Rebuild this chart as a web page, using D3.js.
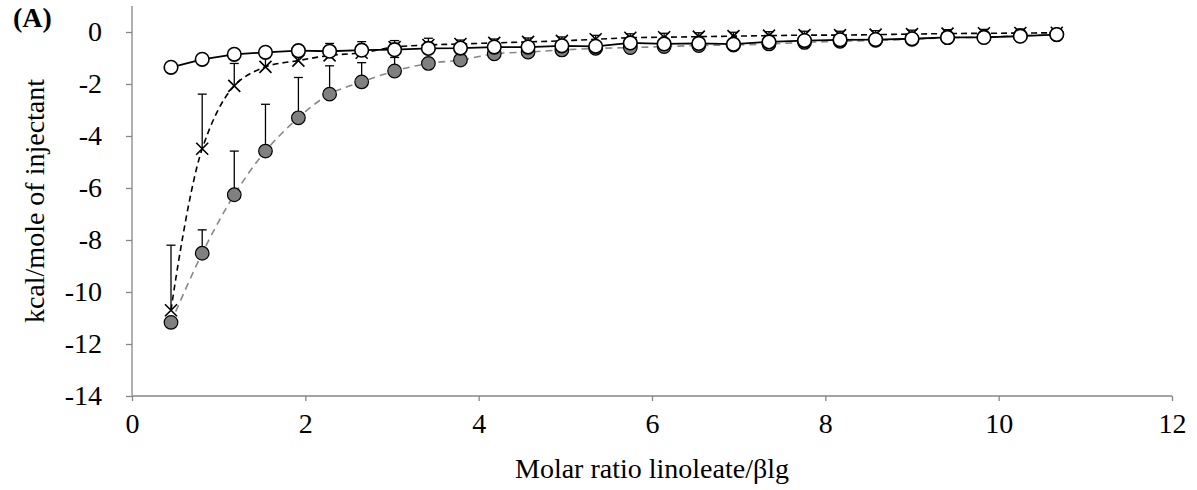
<!DOCTYPE html>
<html>
<head>
<meta charset="utf-8">
<script src="https://cdn.jsdelivr.net/npm/d3@7"></script>
<style>
  body { margin: 0; background: #fff; }
  text { font-family: "Liberation Serif", "Times New Roman", serif; fill: #000; }
</style>
</head>
<body>
<svg id="chart" width="1197" height="490"></svg>
<script>
// molar ratio linoleate/βlg at each injection
const molarRatio = [0.45, 0.81, 1.18, 1.54, 1.92, 2.28, 2.65, 3.03, 3.42, 3.79, 4.18, 4.57, 4.96, 5.35,
    5.75, 6.14, 6.54, 6.94, 7.35, 7.76, 8.17, 8.58, 9.00, 9.41, 9.83, 10.25, 10.67];

// open circles, solid line
const openValues = [-1.36, -1.05, -0.86, -0.78, -0.72, -0.74, -0.70, -0.68, -0.63, -0.62, -0.58, -0.58, -0.53, -0.55,
    -0.42, -0.46, -0.44, -0.47, -0.38, -0.33, -0.30, -0.29, -0.26, -0.21, -0.21, -0.16, -0.10];
const openErr = [0, 0, 0, 0, 0, 0.1, 0.1, 0.1, 0.15, 0.1, 0.1, 0.1, 0.1, 0.1,
    0.1, 0.1, 0.1, 0.1, 0.1, 0.1, 0.1, 0.1, 0.1, 0.1, 0.1, 0.1, 0.1];

// crosses, black dashed line
const crossValues = [-10.70, -4.49, -2.07, -1.34, -1.10, -0.90, -0.80, -0.58, -0.50, -0.46, -0.42, -0.38, -0.34, -0.28,
    -0.22, -0.20, -0.18, -0.16, -0.14, -0.12, -0.12, -0.10, -0.08, -0.06, -0.05, -0.04, -0.03];
const crossErr = [2.5, 2.1, 0.86, 0.4, 0.3, 0.46, 0.43, 0.25, 0.26, 0.15, 0.15, 0.15, 0.15, 0.15,
    0.15, 0.15, 0.15, 0.15, 0.15, 0.15, 0.15, 0.15, 0.15, 0.15, 0.15, 0.15, 0.15];

// grey filled circles, grey dashed line
const greyValues = [-11.17, -8.51, -6.26, -4.58, -3.30, -2.39, -1.92, -1.50, -1.21, -1.08, -0.84, -0.77, -0.69, -0.63,
    -0.60, -0.56, -0.52, -0.50, -0.46, -0.40, -0.36, -0.32, -0.28, -0.22, -0.20, -0.14, -0.10];
const greyErr = [0, 0.9, 1.68, 1.8, 1.55, 1.09, 0.74, 0.52, 0.2, 0.15, 0.15, 0.15, 0.15, 0.15,
    0.15, 0.15, 0.15, 0.15, 0.15, 0.15, 0.15, 0.15, 0.15, 0.15, 0.15, 0.15, 0.15];

const xTicks = [0, 2, 4, 6, 8, 10, 12];
const yTicks = [0, -2, -4, -6, -8, -10, -12, -14];

const svg = d3.select('#chart');
const margin = { left: 132, right: 25, top: 6, bottom: 94 };
const width = 1197 - margin.left - margin.right;
const height = 490 - margin.top - margin.bottom;

const x = d3.scaleLinear().domain([0, 12]).range([0, width]);
const y = d3.scaleLinear().domain([-14, 1]).range([height, 0]);

const g = svg.append('g').attr('transform', `translate(${margin.left},${margin.top})`);

// axes (plain hyphen for negatives, like the original)
const xAxis = g.append('g')
    .attr('transform', `translate(0,${height})`)
    .call(d3.axisBottom(x).tickValues(xTicks).tickFormat(d => String(d)).tickSize(5).tickPadding(12));
const yAxis = g.append('g')
    .call(d3.axisLeft(y).tickValues(yTicks).tickFormat(d => String(d)).tickSize(6).tickPadding(24));

[xAxis, yAxis].forEach(ax => {
    ax.selectAll('path, line').attr('stroke', '#868686').attr('stroke-width', 1.3);
    ax.selectAll('text').style('font-size', '28px');
});
xAxis.select('.domain').attr('d', `M0.5,0H${width}`);
yAxis.select('.domain').attr('d', `M0,0V${height}`);

const rows = molarRatio.map((m, i) => ({
    m, open: openValues[i], cross: crossValues[i], grey: greyValues[i],
    oe: openErr[i], ce: crossErr[i], ge: greyErr[i]
}));

function errorBars(key, errKey) {
    const eb = g.append('g').attr('stroke', '#000').attr('stroke-width', 1.3);
    rows.filter(d => d[errKey] > 0).forEach(d => {
        const cx = x(d.m), y0 = y(d[key]), y1 = y(d[key] + d[errKey]);
        eb.append('line').attr('x1', cx).attr('x2', cx).attr('y1', y0).attr('y2', y1);
        eb.append('line').attr('x1', cx - 4.5).attr('x2', cx + 4.5).attr('y1', y1).attr('y2', y1);
    });
}

const smooth = d3.line().x(d => x(d.m)).curve(d3.curveCatmullRom.alpha(0.5));

// grey series
errorBars('grey', 'ge');
g.append('path')
    .datum(rows)
    .attr('d', smooth.y(d => y(d.grey)))
    .attr('fill', 'none')
    .attr('stroke', '#888')
    .attr('stroke-width', 1.6)
    .attr('stroke-dasharray', '7,5');
g.append('g').selectAll('circle')
    .data(rows)
    .join('circle')
    .attr('cx', d => x(d.m))
    .attr('cy', d => y(d.grey))
    .attr('r', 6.8)
    .attr('fill', '#808080')
    .attr('stroke', '#000')
    .attr('stroke-width', 1.2);

// cross series
errorBars('cross', 'ce');
g.append('path')
    .datum(rows)
    .attr('d', smooth.y(d => y(d.cross)))
    .attr('fill', 'none')
    .attr('stroke', '#000')
    .attr('stroke-width', 1.6)
    .attr('stroke-dasharray', '6,4');
g.append('g').selectAll('path')
    .data(rows)
    .join('path')
    .attr('transform', d => `translate(${x(d.m)},${y(d.cross)})`)
    .attr('d', 'M-6,-6L6,6M-6,6L6,-6')
    .attr('stroke', '#000')
    .attr('stroke-width', 1.6);

// open series
errorBars('open', 'oe');
g.append('path')
    .datum(rows)
    .attr('d', d3.line().x(d => x(d.m)).y(d => y(d.open)))
    .attr('fill', 'none')
    .attr('stroke', '#000')
    .attr('stroke-width', 1.8);
g.append('g').selectAll('circle')
    .data(rows)
    .join('circle')
    .attr('cx', d => x(d.m))
    .attr('cy', d => y(d.open))
    .attr('r', 6.8)
    .attr('fill', '#fff')
    .attr('stroke', '#000')
    .attr('stroke-width', 1.6);

// titles
svg.append('text')
    .attr('x', margin.left + width / 2)
    .attr('y', 478)
    .attr('text-anchor', 'middle')
    .style('font-size', '28px')
    .text('Molar ratio linoleate/βlg');

svg.append('text')
    .attr('transform', `translate(44,${margin.top + height / 2}) rotate(-90)`)
    .attr('text-anchor', 'middle')
    .style('font-size', '28px')
    .text('kcal/mole of injectant');

svg.append('text')
    .attr('x', 13)
    .attr('y', 27)
    .style('font-size', '28px')
    .style('font-weight', 'bold')
    .text('(A)');
</script>
</body>
</html>
